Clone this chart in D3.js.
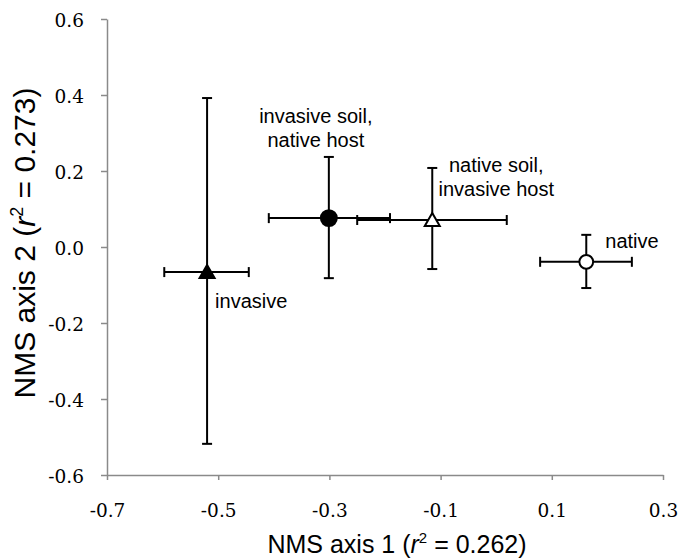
<!DOCTYPE html>
<html>
<head>
<meta charset="utf-8">
<script src="https://cdn.jsdelivr.net/npm/d3@7"></script>
<style>
  body { margin: 0; background: #fff; }
  .axis path, .axis line { stroke: #8a8a8a; stroke-width: 1.5; }
  .title { font-family: "Liberation Sans", Arial, sans-serif; fill: #000; }
  .label { font-family: "Liberation Sans", Arial, sans-serif; font-size: 20px; fill: #000; }
</style>
</head>
<body>
<div id="chart"></div>
<script>
const width = 678;
const height = 559;

// group names and NMS scores
const groups = ["invasive", "invasive soil, native host", "native soil, invasive host", "native"];
const axis1 = [-0.520, -0.301, -0.115, 0.162];
const axis1Lo = [-0.597, -0.409, -0.250, 0.079];
const axis1Hi = [-0.445, -0.191, 0.019, 0.244];
const axis2 = [-0.066, 0.076, 0.071, -0.039];
const axis2Lo = [-0.518, -0.082, -0.058, -0.108];
const axis2Hi = [0.392, 0.237, 0.208, 0.032];

const xTicks = [-0.7, -0.5, -0.3, -0.1, 0.1, 0.3];
const yTicks = [-0.6, -0.4, -0.2, 0.0, 0.2, 0.4, 0.6];

// marker look and where each label sits (pixel offsets from the point)
const shapes = ["triangle", "circle", "triangle", "circle"];
const fills = ["#000", "#000", "#fff", "#fff"];
const labelLines = [["invasive"], ["invasive soil,", "native host"], ["native soil,", "invasive host"], ["native"]];
const labelOffset = [[8, 36, "start"], [-13, -95, "middle"], [64, -48, "middle"], [19, -14, "start"]];

const x = d3.scaleLinear().domain([-0.7, 0.3]).range([107, 663]);
const y = d3.scaleLinear().domain([-0.6, 0.6]).range([475, 19]);

const fmt = d => d3.format(".1f")(d).replace("−", "-");

const svg = d3.select("#chart")
  .append("svg")
  .attr("width", width)
  .attr("height", height);

const xAxis = svg.append("g")
  .attr("class", "axis")
  .attr("transform", "translate(0," + y(-0.6) + ")")
  .call(d3.axisBottom(x).tickValues(xTicks).tickSize(5).tickSizeOuter(0).tickPadding(24).tickFormat(fmt));

const yAxis = svg.append("g")
  .attr("class", "axis")
  .attr("transform", "translate(" + x(-0.7) + ",0)")
  .call(d3.axisLeft(y).tickValues(yTicks).tickSize(6).tickSizeOuter(0).tickPadding(17).tickFormat(fmt));

[xAxis, yAxis].forEach(a => a.selectAll("text")
  .style("font-family", "'DejaVu Serif', serif")
  .style("font-size", "18.5px")
  .attr("fill", "#000"));
yAxis.selectAll("text").attr("dy", "0.42em");

// axis titles
function title(el, num, big, small) {
  el.append("tspan").text("NMS axis " + num + " (");
  el.append("tspan").style("font-style", "italic").text("r");
  el.append("tspan").attr("dy", -big * 0.4).style("font-size", small + "px").text("2");
  el.append("tspan").attr("dy", big * 0.4).text(" = " + (num === 1 ? "0.262" : "0.273") + ")");
}

const xt = svg.append("text")
  .attr("class", "title")
  .attr("x", 397)
  .attr("y", 553)
  .attr("text-anchor", "middle")
  .style("font-size", "25px");
title(xt, 1, 25, 15);

const yt = svg.append("text")
  .attr("class", "title")
  .attr("transform", "translate(35,243) rotate(-90)")
  .attr("text-anchor", "middle")
  .style("font-size", "30px");
title(yt, 2, 30, 18);

const data = groups.map((g, i) => ({
  name: g,
  x: axis1[i], xlo: axis1Lo[i], xhi: axis1Hi[i],
  y: axis2[i], ylo: axis2Lo[i], yhi: axis2Hi[i],
  shape: shapes[i], fill: fills[i],
  lines: labelLines[i], off: labelOffset[i]
}));

const cap = 5;
const bars = svg.append("g")
  .attr("stroke", "#000")
  .attr("stroke-width", 2)
  .attr("fill", "none");

data.forEach(d => {
  const px = x(d.x), py = y(d.y);
  bars.append("line").attr("x1", x(d.xlo)).attr("x2", x(d.xhi)).attr("y1", py).attr("y2", py);
  bars.append("line").attr("x1", x(d.xlo)).attr("x2", x(d.xlo)).attr("y1", py - cap).attr("y2", py + cap);
  bars.append("line").attr("x1", x(d.xhi)).attr("x2", x(d.xhi)).attr("y1", py - cap).attr("y2", py + cap);
  bars.append("line").attr("x1", px).attr("x2", px).attr("y1", y(d.ylo)).attr("y2", y(d.yhi));
  bars.append("line").attr("x1", px - cap).attr("x2", px + cap).attr("y1", y(d.ylo)).attr("y2", y(d.ylo));
  bars.append("line").attr("x1", px - cap).attr("x2", px + cap).attr("y1", y(d.yhi)).attr("y2", y(d.yhi));
});

svg.selectAll(".marker")
  .data(data)
  .enter()
  .append("path")
  .attr("class", "marker")
  .attr("transform", d => "translate(" + x(d.x) + "," + y(d.y) + ")")
  .attr("d", d => d.shape === "circle"
    ? d3.symbol(d3.symbolCircle, d.fill === "#000" ? 200 : 150)()
    : "M0,-7L7.5,6L-7.5,6Z")
  .attr("fill", d => d.fill)
  .attr("stroke", "#000")
  .attr("stroke-width", 2);

svg.selectAll(".label")
  .data(data)
  .enter()
  .append("text")
  .attr("class", "label")
  .attr("text-anchor", d => d.off[2])
  .each(function(d) {
    d3.select(this).selectAll("tspan")
      .data(d.lines)
      .enter()
      .append("tspan")
      .attr("x", x(d.x) + d.off[0])
      .attr("y", (l, j) => y(d.y) + d.off[1] + j * 24)
      .text(l => l);
  });
</script>
</body>
</html>
